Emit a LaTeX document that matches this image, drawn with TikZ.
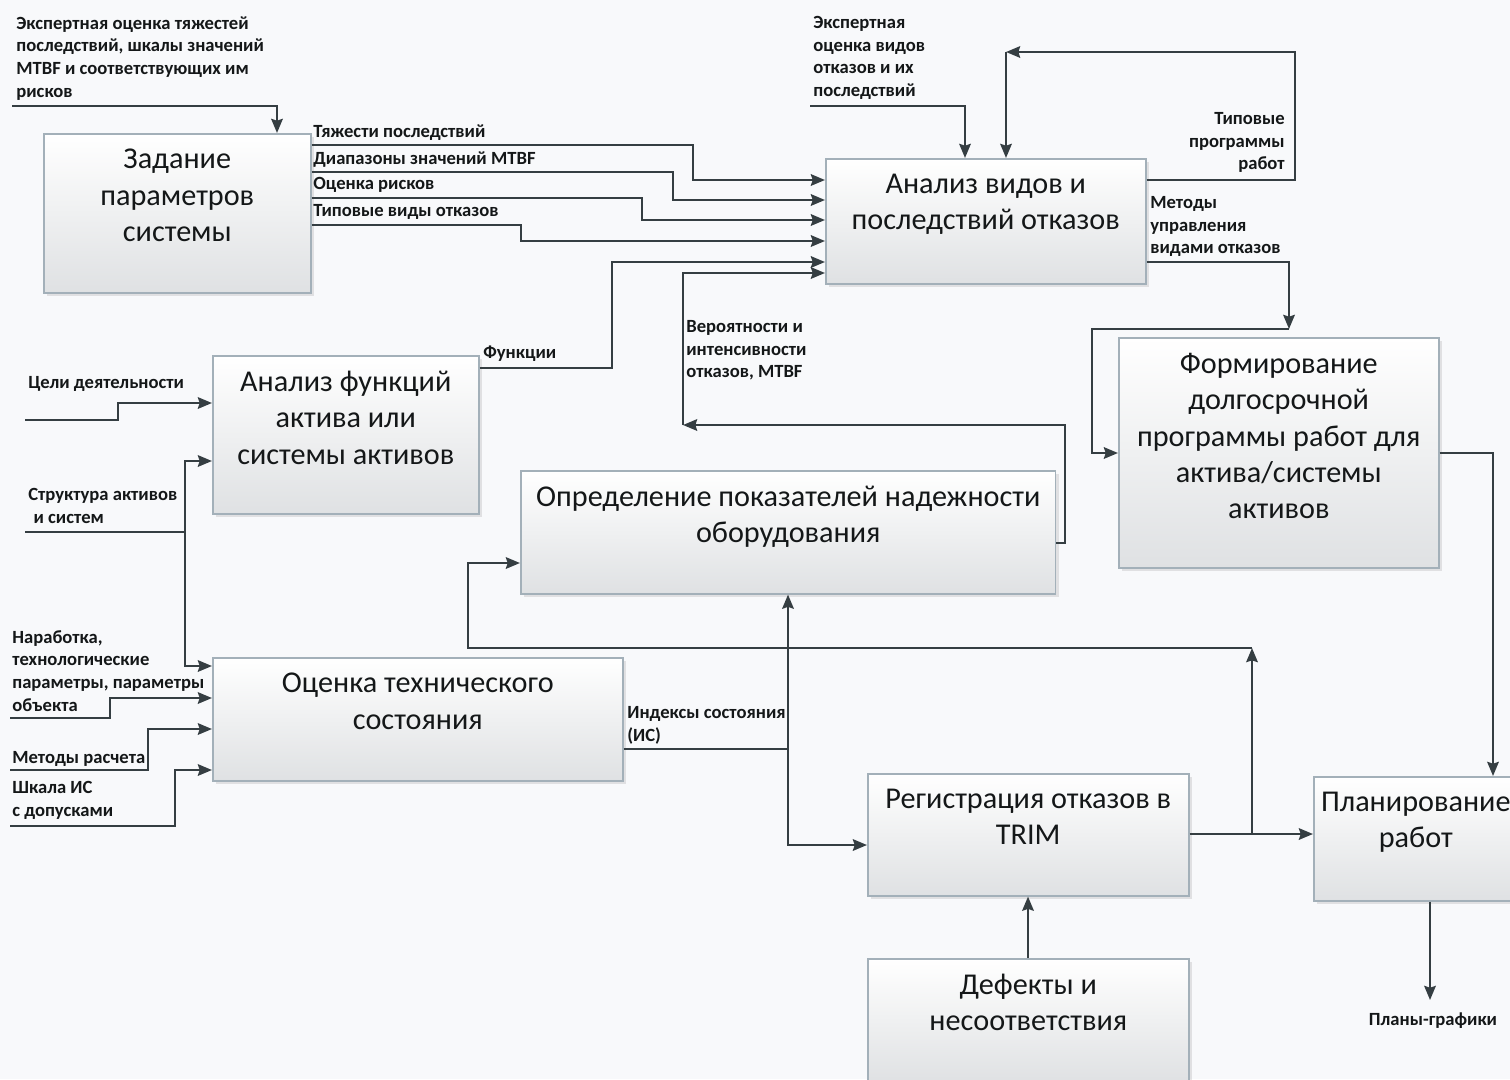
\documentclass[tikz,border=0pt]{standalone}
\usepackage{fontspec}
\setmainfont{Carlito}
\usetikzlibrary{arrows.meta,positioning,shadows}

\definecolor{ln}{HTML}{353E42}
\definecolor{bxline}{HTML}{A3B0B9}
\definecolor{bxfill}{HTML}{DFE1E3}
\definecolor{bg}{HTML}{F8F9FB}
\definecolor{txt}{HTML}{141718}

\begin{document}
\begin{tikzpicture}[x=0.02cm, y=-0.02cm,
    >={Stealth[length=8pt,width=6.5pt,inset=1pt]},
    blk/.style={draw=bxline, line width=0.9pt, top color=white, bottom color=bxfill,
        anchor=north west, drop shadow={shadow xshift=2pt, shadow yshift=-2pt, opacity=0.2}},
    blktxt/.style={anchor=north, align=center, inner sep=0pt, text=txt,
        font=\fontsize{17.2}{20.6}\selectfont},
    lbl/.style={anchor=north west, align=left, inner sep=0pt, text=txt,
        font=\fontsize{10.6}{12.9}\selectfont\bfseries},
    flow/.style={draw=ln, line width=1.5pt, ->},
    wire/.style={draw=ln, line width=1.5pt}]
    % Background
    \fill[bg] (0,0) rectangle (1510,1079);
    \useasboundingbox (0,0) rectangle (1510,1079);
    \clip (0,0) rectangle (1510,1079);

    % Blocks
    \node[blk, minimum width=5.34cm, minimum height=3.18cm] (zad) at (43,133) {};
    \node[blk, minimum width=6.4cm, minimum height=2.5cm] (avo) at (825,158) {};
    \node[blk, minimum width=5.32cm, minimum height=3.16cm] (afa) at (212,355) {};
    \node[blk, minimum width=10.7cm, minimum height=2.46cm] (opr) at (520,470) {};
    \node[blk, minimum width=6.4cm, minimum height=4.6cm] (frm) at (1118,337) {};
    \node[blk, minimum width=8.2cm, minimum height=2.46cm] (ots) at (212,657) {};
    \node[blk, minimum width=6.42cm, minimum height=2.44cm] (reg) at (867,773) {};
    \node[blk, minimum width=4.08cm, minimum height=2.48cm] (pln) at (1313,776) {};
    \node[blk, minimum width=6.42cm, minimum height=2.48cm] (def) at (867,958) {};

    \node[blktxt, below=0.32cm of zad.north] (zadT) {Задание\\параметров\\системы};
    \node[blktxt, below=0.32cm of avo.north] (avoT) {Анализ видов и\\последствий отказов};
    \node[blktxt, below=0.32cm of afa.north] (afaT) {Анализ функций\\актива или\\системы активов};
    \node[blktxt, below=0.32cm of opr.north] (oprT) {Определение показателей надежности\\оборудования};
    \node[blktxt, below=0.32cm of frm.north] (frmT) {Формирование\\долгосрочной\\программы работ для\\актива/системы\\активов};
    \node[blktxt, below=0.32cm of ots.north] (otsT) {Оценка технического\\состояния};
    \node[blktxt, below=0.32cm of reg.north] (regT) {Регистрация отказов в\\TRIM};
    \node[blktxt, below=0.32cm of pln.north] (plnT) {Планирование\\работ};
    \node[blktxt, below=0.32cm of def.north] (defT) {Дефекты и\\несоответствия};

    % Inputs of the top blocks
    \coordinate (in1) at (12,106);
    \draw[flow] (in1) -| (zad.north -| 277,0);
    \node[lbl] (l1) at (16,16) {Экспертная оценка тяжестей\\последствий, шкалы значений\\MTBF и соответствующих им\\рисков};
    \coordinate (in2) at (810,106);
    \draw[flow] (in2) -| (avo.north -| 965,0);
    \node[lbl] (l6) at (813,16) {Экспертная\\оценка видов\\отказов и их\\последствий};

    % Parameters -> FMEA
    \draw[flow] (zad.east |- 0,145) -- (693,145) |- (avo.west |- 0,180);
    \draw[flow] (zad.east |- 0,172) -- (673,172) |- (avo.west |- 0,200);
    \draw[flow] (zad.east |- 0,198) -- (642,198) |- (avo.west |- 0,220);
    \draw[flow] (zad.east |- 0,225) -- (521,225) |- (avo.west |- 0,241);
    \node[lbl] (l2) at (313,124) {Тяжести последствий};
    \node[lbl] (l3) at (313,151) {Диапазоны значений MTBF};
    \node[lbl] (l4) at (313,177) {Оценка рисков};
    \node[lbl] (l5) at (313,204) {Типовые виды отказов};

    % Typical programmes loop
    \coordinate (tp) at (1006,52);
    \draw[flow] (avo.east |- 0,180) -- (1295,180) |- (tp);
    \draw[flow] (tp) -- (avo.north -| tp);
    \node[lbl, anchor=north east, align=right] (l7) at (1285,112) {Типовые\\программы\\работ};

    % Methods -> long-term programme
    \coordinate (mt) at (1289,329);
    \draw[flow] (avo.east |- 0,262) -| (mt);
    \draw[flow] (mt) -- (1092,329) |- (frm.west |- 0,453);
    \node[lbl] (l8) at (1150,196) {Методы\\управления\\видами отказов};
    \draw[flow] (frm.east |- 0,453) -| (pln.north -| 1493,0);

    % Functions
    \draw[flow] (afa.east |- 0,368) -- (612,368) |- (avo.west |- 0,262);
    \node[lbl] (l9) at (483,346) {Функции};

    % Reliability -> FMEA
    \coordinate (pr) at (683,425);
    \draw[flow] (opr.east |- 0,543) -- (1065,543) |- (pr);
    \draw[flow] (pr) |- (avo.west |- 0,273);
    \node[lbl] (l10) at (686,320) {Вероятности и\\интенсивности\\отказов, MTBF};

    % Left inputs
    \coordinate (in3) at (25,420);
    \draw[flow] (in3) -- (118,420) |- (afa.west |- 0,403);
    \node[lbl] (l11) at (28,376) {Цели деятельности};
    \coordinate (in4) at (25,532);
    \coordinate (j4) at (185,532);
    \draw[wire] (in4) -- (j4);
    \draw[flow] (j4) |- (afa.west |- 0,461);
    \draw[flow] (j4) |- (ots.west |- 0,666);
    \node[lbl] (l12) at (28,488) {Структура активов\\\hspace{3pt}и систем};
    \coordinate (in5) at (10,718);
    \draw[flow] (in5) -- (110,718) |- (ots.west |- 0,698);
    \node[lbl] (l13) at (12,630) {Наработка,\\технологические\\параметры, параметры\\объекта};
    \coordinate (in6) at (10,770);
    \draw[flow] (in6) -- (148,770) |- (ots.west |- 0,729);
    \node[lbl] (l14) at (12,751) {Методы расчета};
    \coordinate (in7) at (10,826);
    \draw[flow] (in7) -- (175,826) |- (ots.west |- 0,770);
    \node[lbl] (l15) at (12,781) {Шкала ИС\\с допусками};

    % Condition indices
    \coordinate (j5) at (788,749);
    \draw[wire] (ots.east |- j5) -- (j5);
    \draw[flow] (j5) -- (opr.south -| j5);
    \draw[flow] (j5) |- (reg.west |- 0,845);
    \node[lbl] (l16) at (627,706) {Индексы состояния\\(ИС)};

    % Failure registration outputs
    \coordinate (j6) at (1252,834);
    \coordinate (up) at (1252,648);
    \draw[wire] (reg.east |- j6) -- (j6);
    \draw[flow] (j6) -- (pln.west |- j6);
    \draw[flow] (j6) -- (up);
    \draw[flow] (up) -- (468,648) |- (opr.west |- 0,563);
    \draw[flow] (def.north -| 1028,0) -- (reg.south -| 1028,0);

    % Plans
    \coordinate (out1) at (1430,1000);
    \draw[flow] (pln.south -| out1) -- (out1);
    \node[lbl, anchor=center] (l17) at (1433,1021) {Планы-графики};
\end{tikzpicture}
\end{document}
